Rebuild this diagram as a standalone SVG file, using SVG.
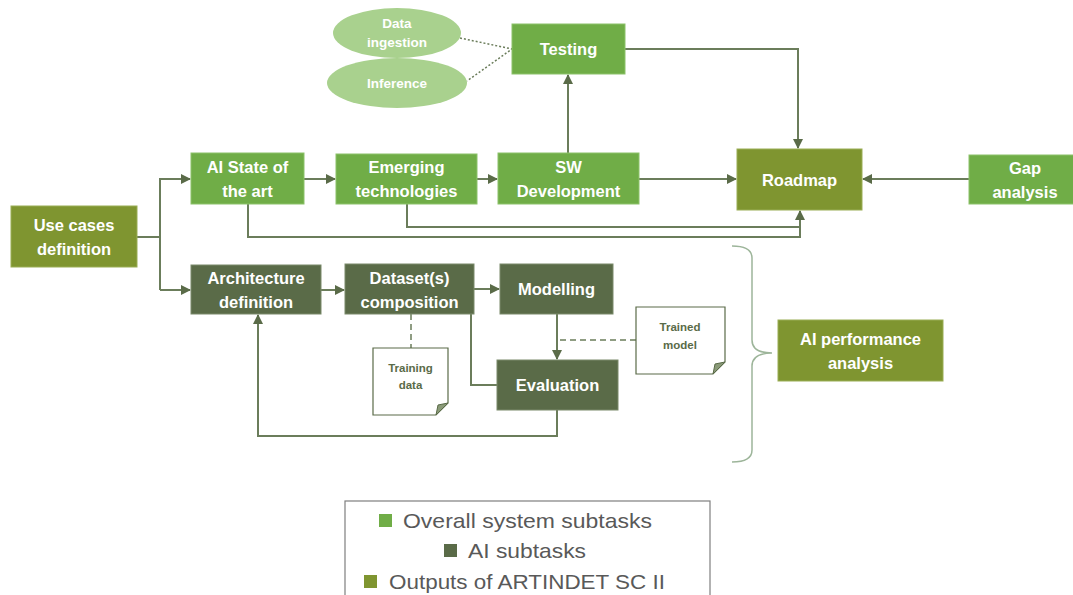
<svg xmlns="http://www.w3.org/2000/svg" width="1073" height="595" viewBox="0 0 1073 595">
<defs>
<style>
.lg{fill:#70AD47;stroke:#8CC26A;stroke-width:1}
.dk{fill:#5A6B48;stroke:#7A8A6A;stroke-width:1}
.ol{fill:#7F9530;stroke:#9AAD55;stroke-width:1}
.t{font-family:"Liberation Sans",Arial,sans-serif;font-weight:bold;font-size:16.5px;fill:#fff;text-anchor:middle}
.e{font-family:"Liberation Sans",Arial,sans-serif;font-weight:bold;font-size:13.5px;fill:#fff;text-anchor:middle}
.n{font-family:"Liberation Sans",Arial,sans-serif;font-weight:bold;font-size:11.5px;fill:#5A6B48;text-anchor:middle}
.c{fill:none;stroke:#6B7D5B;stroke-width:2}
.d{fill:none;stroke:#6B7D5B;stroke-width:1.5;stroke-dasharray:6 4}
.dot{fill:none;stroke:#6B7D5B;stroke-width:1.5;stroke-dasharray:2 2}
.leg{font-family:"Liberation Sans",Arial,sans-serif;font-size:21px;fill:#595959}
.note{fill:#fff;stroke:#5A6B48;stroke-width:1.2}
</style>
<marker id="ah" markerWidth="10" markerHeight="10" refX="9" refY="5" orient="auto" markerUnits="userSpaceOnUse">
<path d="M0,0 L10,5 L0,10 z" fill="#5A6B48"/>
</marker>
</defs>
<rect width="1073" height="595" fill="#fff"/>
<g id="connectors">
<path class="c" d="M137,237 H160"/>
<path class="c" d="M160,178 V290"/>
<path class="c" d="M160,179 H190" marker-end="url(#ah)"/>
<path class="c" d="M160,290 H190" marker-end="url(#ah)"/>
<path class="c" d="M304,179 H335" marker-end="url(#ah)"/>
<path class="c" d="M477,179 H497" marker-end="url(#ah)"/>
<path class="c" d="M639,179 H736" marker-end="url(#ah)"/>
<path class="c" d="M568,153 V75" marker-end="url(#ah)"/>
<path class="c" d="M625,49 H798 V148" marker-end="url(#ah)"/>
<path class="c" d="M969,179 H863" marker-end="url(#ah)"/>
<path class="c" d="M248,204 V237 H800 V211" marker-end="url(#ah)"/>
<path class="c" d="M407,204 V227 H800"/>
<path class="dot" d="M460,38 L512,49 L467,81"/>
<path class="c" d="M321,290 H344" marker-end="url(#ah)"/>
<path class="c" d="M474,289 H499" marker-end="url(#ah)"/>
<path class="c" d="M471,314 V385 H497"/>
<path class="c" d="M557,314 V359" marker-end="url(#ah)"/>
<path class="d" d="M636,340 H557"/>
<path class="d" d="M411,314 V348"/>
<path class="c" d="M557,410 V436 H258 V315" marker-end="url(#ah)"/>
<path fill="none" stroke="#9DB59A" stroke-width="1.5" d="M732,246 Q752,246 752,258 V340 Q752,353 772,353 Q752,353 752,366 V450 Q752,462 732,462"/>
</g>
<g id="data-ingestion"><ellipse cx="397" cy="33" rx="64" ry="25" fill="#A9D18E"/><text class="e" x="397" y="28">Data</text><text class="e" x="397" y="47">ingestion</text></g>
<g id="inference"><ellipse cx="397" cy="83" rx="70" ry="25" fill="#A9D18E"/><text class="e" x="397" y="88">Inference</text></g>
<g id="testing"><rect class="lg" x="512" y="24" width="113" height="50"/><text class="t" x="568.5" y="55">Testing</text></g>
<g id="use-cases"><rect class="ol" x="11" y="206" width="126" height="61"/><text class="t" x="74" y="231">Use cases</text><text class="t" x="74" y="255">definition</text></g>
<g id="ai-state"><rect class="lg" x="191" y="153" width="113" height="51"/><text class="t" x="247.5" y="173">AI State of</text><text class="t" x="247.5" y="197">the art</text></g>
<g id="emerging"><rect class="lg" x="336" y="154" width="141" height="50"/><text class="t" x="406.5" y="173">Emerging</text><text class="t" x="406.5" y="197">technologies</text></g>
<g id="sw-dev"><rect class="lg" x="498" y="153" width="141" height="51"/><text class="t" x="568.5" y="173">SW</text><text class="t" x="568.5" y="197">Development</text></g>
<g id="roadmap"><rect class="ol" x="737" y="149" width="125" height="61"/><text class="t" x="799.5" y="186">Roadmap</text></g>
<g id="gap"><rect class="lg" x="969" y="155" width="106" height="49"/><text class="t" x="1025" y="174">Gap</text><text class="t" x="1025" y="198">analysis</text></g>
<g id="architecture"><rect class="dk" x="191" y="265" width="130" height="49"/><text class="t" x="256" y="284">Architecture</text><text class="t" x="256" y="308">definition</text></g>
<g id="dataset"><rect class="dk" x="345" y="264" width="129" height="50"/><text class="t" x="409.5" y="284">Dataset(s)</text><text class="t" x="409.5" y="308">composition</text></g>
<g id="modelling"><rect class="dk" x="500" y="264" width="113" height="50"/><text class="t" x="556.5" y="295">Modelling</text></g>
<g id="evaluation"><rect class="dk" x="497" y="360" width="121" height="50"/><text class="t" x="557.5" y="391">Evaluation</text></g>
<g id="training-data"><path class="note" d="M373,348 H448 V403 L436,415 H373 Z"/><path d="M448,403 L436,415 L438,405 Z" fill="#8A9A78" stroke="#5A6B48" stroke-width="1"/><text class="n" x="410.5" y="372">Training</text><text class="n" x="410.5" y="389">data</text></g>
<g id="trained-model"><path class="note" d="M636,307 H725 V362 L713,374 H636 Z"/><path d="M725,362 L713,374 L715,364 Z" fill="#8A9A78" stroke="#5A6B48" stroke-width="1"/><text class="n" x="680" y="331">Trained</text><text class="n" x="680" y="349">model</text></g>
<g id="ai-performance"><rect class="ol" x="778" y="320" width="165" height="61"/><text class="t" x="860.5" y="345">AI performance</text><text class="t" x="860.5" y="369">analysis</text></g>
<g id="legend">
<rect x="345" y="501" width="365" height="100" fill="#fff" stroke="#7F7F7F" stroke-width="1.2"/>
<rect x="379" y="514" width="13" height="13" fill="#70AD47"/>
<text class="leg" x="403" y="528" textLength="249" lengthAdjust="spacingAndGlyphs">Overall system subtasks</text>
<rect x="444" y="544" width="13" height="13" fill="#5A6B48"/>
<text class="leg" x="468" y="558" textLength="118" lengthAdjust="spacingAndGlyphs">AI subtasks</text>
<rect x="364" y="575" width="13" height="13" fill="#7F9530"/>
<text class="leg" x="389" y="589" textLength="276" lengthAdjust="spacingAndGlyphs">Outputs of ARTINDET SC II</text>
</g>
</svg>
